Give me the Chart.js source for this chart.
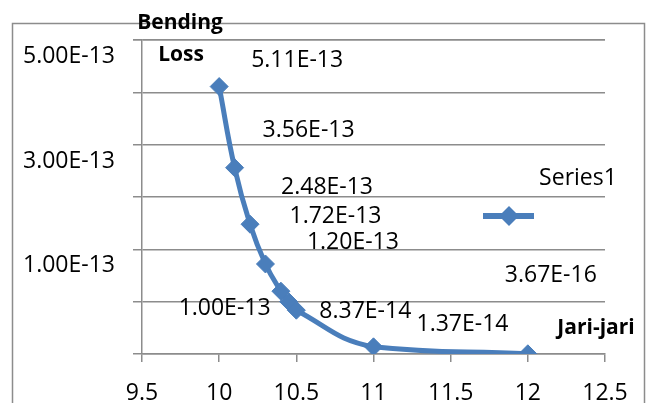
<!DOCTYPE html>
<html>
<head>
<meta charset="utf-8">
<script src="https://cdn.jsdelivr.net/npm/chart.js@4.4.0/dist/chart.umd.min.js"></script>
<style>
  body { margin: 0; background: #fff; }
  #wrap { width: 646px; height: 403px; }
</style>
</head>
<body>
<div id="wrap"><canvas id="lossChart" width="646" height="403"></canvas></div>
<script>
// data
const jariJari = [10, 10.1, 10.2, 10.3, 10.4, 10.45, 10.5, 11, 12];
const bendingLoss = [5.11e-13, 3.56e-13, 2.48e-13, 1.72e-13, 1.20e-13, 1.00e-13, 8.37e-14, 1.37e-14, 3.67e-16];
const pointLabels = ['5.11E-13', '3.56E-13', '2.48E-13', '1.72E-13', '1.20E-13', '1.00E-13', '8.37E-14', '1.37E-14', '3.67E-16'];
const yTickLabels = ['5.00E-13', '3.00E-13', '1.00E-13'];
const xTickLabels = ['9.5', '10', '10.5', '11', '11.5', '12', '12.5'];

// where each value label sits relative to its point (hand placed in the original)
const labelShift = [[78, -26], [74, -37], [77, -37], [70, -48], [72, -49], [-64, 7], [69, 1], [89, -22], [23, -78]];

const blue = '#4a7ebb';
const gridGray = '#8c8c8c';
const fontName = "'Open Sans', sans-serif";

const decorPlugin = {
  id: 'decor',
  beforeDraw(chart) {
    const ctx = chart.ctx;
    ctx.save();
    ctx.fillStyle = '#fff';
    ctx.fillRect(0, 0, chart.width, chart.height);
    ctx.strokeStyle = gridGray;
    ctx.lineWidth = 1.5;
    ctx.strokeRect(12.5, 23.5, 632, 420);
    ctx.restore();
  },
  afterDatasetsDraw(chart) {
    const ctx = chart.ctx;
    const pts = chart.getDatasetMeta(0).data;
    ctx.save();
    ctx.fillStyle = '#000';
    ctx.textAlign = 'center';
    ctx.textBaseline = 'middle';
    ctx.font = '23px ' + fontName;
    pts.forEach((p, i) => {
      ctx.fillText(pointLabels[i], p.x + labelShift[i][0], p.y + labelShift[i][1]);
    });

    // axis titles
    ctx.font = 'bold 21px ' + fontName;
    ctx.fillText('Bending', 180, 23);
    ctx.fillText('Loss', 181, 55);
    ctx.fillText('Jari-jari', 596, 328);

    // legend
    ctx.font = '23px ' + fontName;
    ctx.fillText('Series1', 578, 178);
    ctx.strokeStyle = blue;
    ctx.lineWidth = 6;
    ctx.beginPath();
    ctx.moveTo(483, 216);
    ctx.lineTo(534, 216);
    ctx.stroke();
    ctx.fillStyle = blue;
    ctx.beginPath();
    ctx.moveTo(499, 216);
    ctx.lineTo(509, 206);
    ctx.lineTo(519, 216);
    ctx.lineTo(509, 226);
    ctx.closePath();
    ctx.fill();
    ctx.restore();
  }
};

new Chart(document.getElementById('lossChart'), {
  type: 'scatter',
  data: {
    datasets: [{
      label: 'Series1',
      data: jariJari.map((x, i) => ({ x: x, y: bendingLoss[i] })),
      showLine: true,
      borderColor: blue,
      backgroundColor: blue,
      borderWidth: 5,
      tension: 0.45,
      pointStyle: 'rectRot',
      pointRadius: 9,
      pointBorderWidth: 1,
      pointBackgroundColor: blue,
      pointBorderColor: blue
    }]
  },
  options: {
    responsive: false,
    animation: false,
    layout: { padding: { top: 40, right: 41, left: 0, bottom: 0 } },
    plugins: {
      legend: { display: false },
      tooltip: { enabled: false }
    },
    scales: {
      x: {
        type: 'linear',
        min: 9.5,
        max: 12.5,
        afterFit: function(scale) { scale.height = 49; },
        afterBuildTicks: function(scale) {
          scale.ticks = xTickLabels.map(t => ({ value: parseFloat(t) }));
        },
        ticks: {
          color: '#000',
          font: { family: fontName, size: 23 },
          padding: 18,
          maxRotation: 0,
          autoSkip: false,
          callback: function(value) {
            return xTickLabels.find(t => parseFloat(t) === value) || '';
          }
        },
        grid: {
          drawOnChartArea: false,
          color: gridGray,
          lineWidth: 1.5,
          tickLength: 8
        },
        border: { color: gridGray, width: 1.5 }
      },
      y: {
        min: 0,
        max: 6e-13,
        afterFit: function(scale) { scale.width = 142; },
        ticks: {
          stepSize: 1e-13,
          color: '#000',
          font: { family: fontName, size: 23 },
          padding: 18,
          labelOffset: -36,
          callback: function(value) {
            const s = value.toExponential(2).toUpperCase();
            return yTickLabels.includes(s) ? s : '';
          }
        },
        grid: {
          color: gridGray,
          lineWidth: 1.5,
          tickLength: 9
        },
        border: { color: gridGray, width: 1.5 }
      }
    }
  },
  plugins: [decorPlugin]
});
</script>
</body>
</html>
